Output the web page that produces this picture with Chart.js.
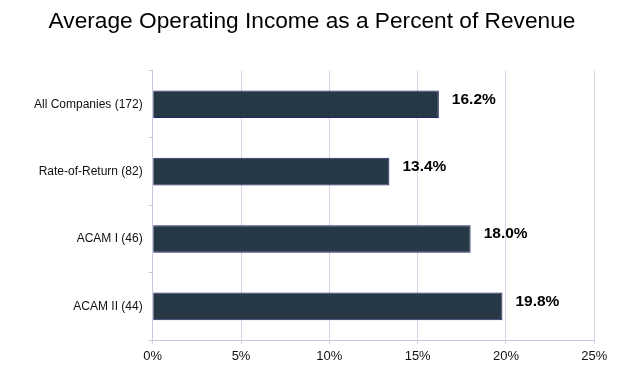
<!DOCTYPE html>
<html>
<head>
<meta charset="utf-8">
<script src="https://cdn.jsdelivr.net/npm/chart.js@4/dist/chart.umd.min.js"></script>
<style>
html,body{margin:0;padding:0;background:#fff;}
#wrap{width:624px;height:374px;position:relative;}
</style>
</head>
<body>
<div id="wrap"><canvas id="c"></canvas></div>
<script>
const categories = ["All Companies (172)", "Rate-of-Return (82)", "ACAM I (46)", "ACAM II (44)"];
const values = [16.2, 13.4, 18.0, 19.8];
const valueLabels = ["16.2%", "13.4%", "18.0%", "19.8%"];
const titleText = "Average Operating Income as a Percent of Revenue";

const labelPlugin = {
  id: 'barLabels',
  afterDatasetsDraw(chart) {
    const ctx = chart.ctx;
    const meta = chart.getDatasetMeta(0);
    ctx.save();
    ctx.font = 'bold 15.5px "Liberation Sans", Arial, sans-serif';
    ctx.fillStyle = '#000';
    ctx.textAlign = 'left';
    ctx.textBaseline = 'middle';
    meta.data.forEach((bar, i) => {
      ctx.fillText(valueLabels[i], bar.x + 13, bar.y - 5);
    });
    ctx.restore();
  }
};

new Chart(document.getElementById('c'), {
  type: 'bar',
  data: {
    labels: categories,
    datasets: [{
      data: values,
      backgroundColor: '#263746',
      borderColor: '#24246e',
      borderWidth: 1,
      barPercentage: 0.41,
      categoryPercentage: 1
    }]
  },
  options: {
    indexAxis: 'y',
    responsive: true,
    maintainAspectRatio: false,
    animation: false,
    layout: { padding: { left: 0, right: 0, top: 0, bottom: 0 } },
    plugins: {
      legend: { display: false },
      tooltip: { enabled: false },
      title: {
        display: true,
        text: titleText,
        color: '#000',
        font: { family: '"Liberation Sans", Arial, sans-serif', size: 22.7, weight: 'normal' },
        padding: { top: 8.5, bottom: 34.8 }
      }
    },
    scales: {
      x: {
        min: 0, max: 25,
        ticks: {
          stepSize: 5,
          callback: v => v + '%',
          color: '#111',
          padding: 5,
          font: { family: '"Liberation Sans", Arial, sans-serif', size: 13 }
        },
        grid: { color: '#d6d6e6', lineWidth: 1, tickLength: 4, drawTicks: true },
        border: { color: '#c8c8dc', width: 1 },
        afterFit(scale) { scale.height = 34; }
      },
      y: {
        ticks: {
          color: '#111',
          padding: 6,
          font: { family: '"Liberation Sans", Arial, sans-serif', size: 12 }
        },
        grid: { drawOnChartArea: false, drawTicks: true, tickLength: 4, offset: true, color: '#c8c8dc' },
        border: { color: '#c8c8dc', width: 1 },
        afterFit(scale) { scale.width = 152.7; }
      },
      yRight: {
        position: 'right',
        type: 'category',
        display: true,
        ticks: { display: false },
        grid: { display: false },
        border: { display: false },
        afterFit(scale) { scale.width = 29.7; }
      }
    }
  },
  plugins: [labelPlugin]
});
</script>
</body>
</html>
